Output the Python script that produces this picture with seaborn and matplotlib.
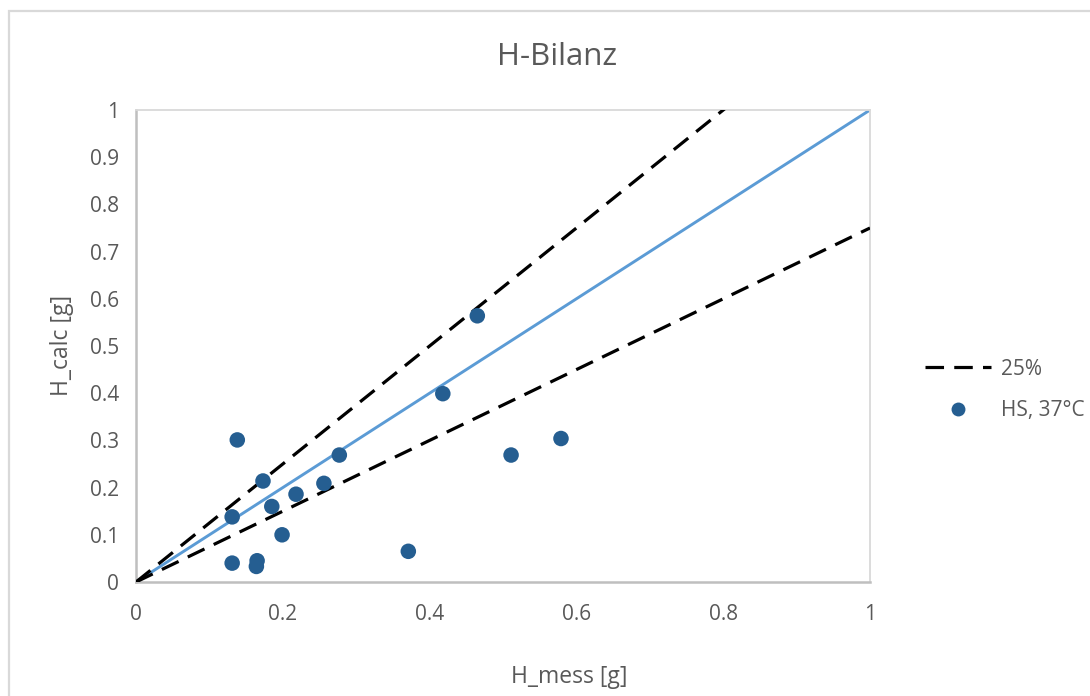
import numpy as np
import pandas as pd
import matplotlib
matplotlib.use("Agg")
import matplotlib.pyplot as plt
import seaborn as sns
from matplotlib.lines import Line2D
from matplotlib.patches import Rectangle

# Measured vs. calculated hydrogen (g)
h_mess = [0.138, 0.173, 0.131, 0.185, 0.218, 0.199, 0.131, 0.165, 0.164,
          0.256, 0.277, 0.371, 0.418, 0.465, 0.511, 0.579]
h_calc = [0.301, 0.214, 0.138, 0.160, 0.186, 0.100, 0.040, 0.045, 0.033,
          0.209, 0.269, 0.065, 0.399, 0.564, 0.269, 0.304]

# Reference lines: 1:1 and +/-25 % bands
ref_x = [0.0, 1.0]
ref_identity = [0.0, 1.0]
ref_upper = [0.0, 1.25]
ref_lower = [0.0, 0.75]

x_ticks = [0, 0.2, 0.4, 0.6, 0.8, 1]
y_ticks = [0, 0.1, 0.2, 0.3, 0.4, 0.5, 0.6, 0.7, 0.8, 0.9, 1]

sns.set_style("white")
plt.rcParams["font.family"] = ["Open Sans", "DejaVu Sans"]

TEXT = "#595959"
POINT = "#255e91"
BLUE = "#5b9bd5"
DASH = [5.8, 3.2]

fig = plt.figure(figsize=(10.9, 6.96), dpi=100)
ax = fig.add_axes([136 / 1090, 1 - 582 / 696, 734 / 1090, 472 / 696])

pts = pd.DataFrame({"H_mess": h_mess, "H_calc": h_calc})
lines = pd.DataFrame({"x": ref_x, "identity": ref_identity,
                      "upper": ref_upper, "lower": ref_lower})

sns.lineplot(data=lines, x="x", y="identity", ax=ax, color=BLUE,
             linewidth=2.1, zorder=2)
for col in ["upper", "lower"]:
    sns.lineplot(data=lines, x="x", y=col, ax=ax, color="black",
                 linewidth=2.3, zorder=3)
for ln in ax.lines[1:]:
    ln.set_dashes(DASH)

sns.scatterplot(data=pts, x="H_mess", y="H_calc", ax=ax, color=POINT,
                s=125, edgecolor="none", zorder=4)

ax.set_xlim(0, 1)
ax.set_ylim(0, 1)
ax.set_xticks(x_ticks)
ax.set_yticks(y_ticks)
ax.set_xticklabels([f"{t:g}" for t in x_ticks])
ax.set_yticklabels([f"{t:g}" for t in y_ticks])
ax.tick_params(axis="both", direction="in", length=6, width=1.3,
               color="#bfbfbf", labelsize=15, labelcolor=TEXT)
ax.tick_params(axis="x", pad=16)
ax.tick_params(axis="y", pad=12)
ax.set_xlabel("")
ax.set_ylabel("")

for side in ["left", "bottom"]:
    ax.spines[side].set_color("#bfbfbf")
    ax.spines[side].set_linewidth(1.8)
for side in ["top", "right"]:
    ax.spines[side].set_color("#d9d9d9")
    ax.spines[side].set_linewidth(1.3)

fig.text(557 / 1090, 1 - 57 / 696, "H-Bilanz", ha="center", va="center",
         fontsize=22.5, color=TEXT)
fig.text(569 / 1090, 1 - 677 / 696, "H_mess [g]", ha="center", va="center",
         fontsize=16.5, color=TEXT)
fig.text(62 / 1090, 1 - 345 / 696, "H_calc [g]", ha="center", va="center",
         rotation=90, fontsize=16.5, color=TEXT)

handles = [
    Line2D([], [], color="black", linewidth=2.3, dashes=DASH),
    Line2D([], [], color=POINT, marker="o", linestyle="none", markersize=10,
           markeredgewidth=0),
]
fig.legend(handles, ["25%", "HS, 37°C"], loc="center left",
           bbox_to_anchor=(906 / 1090, 1 - 390 / 696), frameon=False,
           fontsize=15, labelcolor=TEXT, handlelength=3.2, handletextpad=0.45,
           labelspacing=1.0)

fig.patches.append(Rectangle((9 / 1090, -0.01), 1.0, 1 - 11 / 696 + 0.01,
                             transform=fig.transFigure, fill=False,
                             edgecolor="#d9d9d9", linewidth=1.6))

fig.savefig("out.png", dpi=100, facecolor="white")
